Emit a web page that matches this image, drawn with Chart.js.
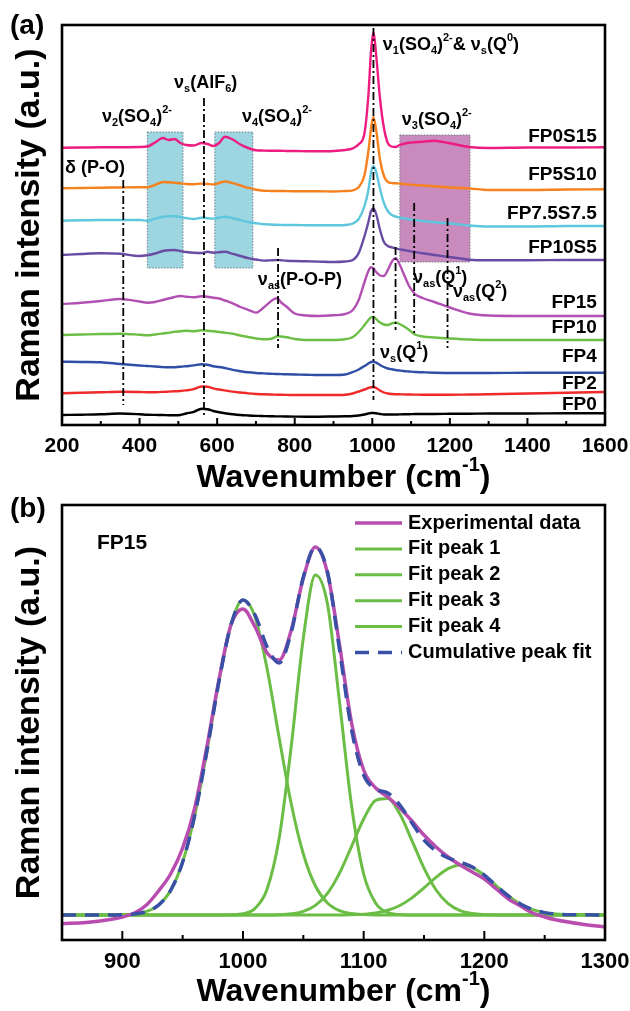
<!DOCTYPE html>
<html>
<head>
<meta charset="utf-8">
<script src="https://cdn.jsdelivr.net/npm/chart.js@4.4.1/dist/chart.umd.min.js"></script>
<style>
body{margin:0;background:#fff;width:630px;height:1011px;position:relative;overflow:hidden}
canvas{position:absolute;left:0}
#ca{top:0}
#cb{top:480px}
</style>
</head>
<body>
<canvas id="ca" width="630" height="500"></canvas>
<canvas id="cb" width="630" height="531"></canvas>
<script>
var FONT = '"Liberation Sans", Arial, sans-serif';
Chart.defaults.font.family = FONT;

// ---- panel (a): stacked Raman spectra ----
var wavenumA = [200,250,300,350,400,420,440,460,475,490,505,520,540,560,575,590,605,620,640,660,680,700,720,735,745,755,765,780,800,830,860,900,930,950,965,980,990,997,1003,1010,1020,1030,1040,1050,1060,1070,1080,1095,1110,1130,1160,1200,1250,1300,1400,1500,1600];
var fp0s15 = [277.3,277.5,277.7,277.8,278,278.5,282.5,287,285,286,282,280,279.5,282,281,279,282,288.3,285.5,280.5,277,274.8,274.4,274.3,274.3,274.2,274.2,274,274,273.8,273.7,274,275,276.7,280.7,292,330,375,393,370,326,297,282,278.5,278,280,281,282.3,282.7,283.3,284.3,281.7,278,277,277.5,277.5,277.7];
var fp5s10 = [236.7,237,237.3,237.5,237.7,237.8,240,243,242.7,242.3,241.7,241,240.8,241.4,241,240.6,242,243.5,241.8,239.5,237.2,235.3,234.3,234.1,234,234,234,233.9,233.8,233.7,233.7,233.5,234,234.7,238,250,274,297,308,295,265,249,243,242,241.7,241.5,241,240.5,240,239.5,238.7,237.5,236.5,235,235,235.5,235.7];
var fp75s75 = [204.3,204.7,205,205,205,204.3,206.3,208.2,208.7,209,208,207,206,207.2,206.8,206.4,207.5,208.2,206.8,205,203,201.8,200.8,200.5,200.3,200.2,200.1,200,200,199.8,199.7,199.7,200,201.5,206,219,235,253,259,253,236,222,214,210,208.5,207.5,206.7,205.7,205,204,202.7,201.5,199.5,198.5,198.5,199,199];
var fp10s5 = [170,171,171.7,171.2,169,169.8,171.5,174,174.8,175,174,173,172.2,172,173.2,172.3,172.8,173.2,171.2,169,166.8,165.5,164.4,164.6,164.8,165,164.7,164.3,164,163.7,163.4,163,163.5,165,172,189,203,214,216.5,211,195,183,179,177.7,176.7,175.7,175,174,173,171.7,170,168,165.3,164.7,164.7,165,165];
var fp15 = [121,122.3,124,126,123.5,122.3,123,125,126.5,128,129,128.3,127.7,128.8,128.3,127.2,126.5,124.5,121.7,118,115.2,112.4,117.5,122.5,125.5,126.7,122.5,118,111.5,109.5,109,109.7,111,115,125,143,154,157.7,156.5,153,149.5,149,155,163,166.7,161,152,139,131,127,123,117.5,111.5,109.5,109,109,109];
var fp10 = [90,90.5,91,91.3,90.3,89.7,90.5,91.5,92.3,93.2,93.7,94.3,93.7,94.7,94.3,93.7,93,92.3,91.2,89.5,88,86.5,85.8,86,87,88.8,88.5,87.7,86,85,85,85,85.7,88,93,100,105,107.7,108,106,102.5,100.5,100,101.5,102.5,101,99,95,90.5,88.5,87.5,86.5,85.5,85,85,85,85];
var fp4 = [63.3,63,62.7,61,59.5,59,58.5,57.9,57.7,57.8,58.2,58.8,59.6,60.8,60.3,58.8,58,57,55.1,53.8,52.7,52,51.6,51.3,51.1,51,50.9,50.7,50.5,50.3,50,50,50.5,53,55.5,59,61.5,63,63.3,62.3,60,58,56.5,55.7,55,54.5,54,53.5,53,52.7,52.3,52,52,52,52.3,52.3,52.3];
var fp2 = [31.7,32.2,32.7,33.2,33,32.7,32.8,33.1,33.4,33.7,34,34.6,35.8,38.5,38.2,36.7,35.5,34.6,33.4,32.5,31.6,31,30.7,30.5,30.4,30.3,30.2,30.1,30,30,30,30,30.3,31.5,33.5,35.5,37,37.8,38,37,34.5,32.5,31.5,31,30.8,30.7,30.6,30.5,30.4,30.3,30.3,30.3,30.5,30.7,31.5,32.3,33];
var fp0 = [10,10.3,10.7,11.5,10.8,10.3,10.1,10,9.8,9.7,10,11.5,13.2,16.3,15.8,14,12.8,11.8,10.8,10,9.5,9.1,8.9,8.8,8.7,8.6,8.6,8.5,8.4,8.3,8.3,8.5,8.7,9,9.5,10.5,11.5,12,12,11.7,11,10.5,10.5,10.5,10.5,10.6,10.7,10.8,11,11,11,11.2,11.3,11.5,11.5,11.7,11.7];
var sampleNames = ['FP0S15','FP5S10','FP7.5S7.5','FP10S5','FP15','FP10','FP4','FP2','FP0'];
var sampleLabelY = [288,250,211,177,122,97,68,41,20];
var ticksA = [200,400,600,800,1000,1200,1400,1600];
var minorA = [300,500,700,900,1100,1300,1500];
// band guide lines: wavenumber, top, bottom
var guideLines = [[358,245,20],[566,327,7],[1003,397,25],[757,177,77],[1060,178,95],[1108,222,92],[1194,207,77]];
// shaded bands: from, to, low, high
var bands = [[420,512,157,293],[594,692,157,293],[1071,1252,163,290]];
var notesA = [
  ['ν_{1}(SO_{4})^{2-}& ν_{s}(Q^{0})', 1027, 380],
  ['ν_{3}(SO_{4})^{2-}', 1076, 305],
  ['ν_{s}(AlF_{6})', 489, 342],
  ['ν_{2}(SO_{4})^{2-}', 303, 308],
  ['ν_{4}(SO_{4})^{2-}', 664, 308],
  ['δ (P-O)', 208, 257],
  ['ν_{as}(P-O-P)', 705, 145],
  ['ν_{as}(Q^{1})', 1105, 147],
  ['ν_{as}(Q^{2})', 1208, 133],
  ['ν_{s}(Q^{1})', 1020, 72]
];

// ---- panel (b): FP15 peak fitting ----
var wavenumB = [850,870,890,900,910,920,930,940,950,960,970,980,990,1000,1010,1020,1030,1040,1050,1060,1070,1080,1090,1100,1110,1120,1130,1140,1150,1160,1170,1180,1190,1200,1210,1220,1230,1240,1250,1260,1280,1300];
var experimental = [-8.5,-7.5,-4.5,-2,2,10,24,41,67,107,168,235,290,306,288,262,255,285,337,368,342,270,192,145,127,118,107,94,80,68,58,50,43,36,26,16,9,2,-2,-5,-9,-12];
var fitPeak1 = [0,0,0,0.3,1.1,3.5,9.9,24.5,53,99.5,163,233,290,315,298,246,177,111,61,29,12,4.3,1.4,0.4,0,0,0,0,0,0,0,0,0,0,0,0,0,0,0,0,0,0];
var fitPeak2 = [0,0,0,0,0,0,0,0,0,0,0,0,0.2,1.2,6.6,26,77,169,277,340,311,213,109,41,11.8,2.5,0.4,0,0,0,0,0,0,0,0,0,0,0,0,0,0,0];
var fitPeak3 = [0,0,0,0,0,0,0,0,0,0,0,0,0,0,0,0,0.3,1.2,3.6,9.6,21.7,41.9,68.7,96,114.7,116.5,100.9,74.4,46.8,25,11.4,4.4,1.5,0.4,0,0,0,0,0,0,0,0];
var fitPeak4 = [0,0,0,0,0,0,0,0,0,0,0,0,0,0,0,0,0,0,0,0,0,0,0.3,0.8,2,4.7,9.5,17.1,27.1,37.7,46.3,50,47.5,39.7,29.2,19,10.8,5.4,2.4,0.9,0.2,0];
var cumulative = [0,0,0,0.3,1.1,3.5,9.9,24.5,53,99.5,163,233,290,315,300,268,252,283,338,368,343,265,185,140,126,122,110,92,75,64,57,53,48,40,29,19,11,5.4,2.4,0.9,0.2,0];
var ticksB = [900,1000,1100,1200,1300];
var minorB = [950,1050,1150,1250];

var sampleColors = ['#ec1c80','#f5821f','#5ec6dd','#6a4ba3','#b24fb2','#6cbe45','#2f4ea6','#ee2a2a','#000000'];
var bandColors = ['#9dd5e1','#9dd5e1','#c98abd'];

function series(xs, ys) {
  return xs.map(function(x, i) { return {x: x, y: ys[i]}; });
}

function parse(s) {
  var out = [], re = /([_^])\{([^}]*)\}|([^_^]+)/g, m;
  while ((m = re.exec(s))) {
    if (m[1]) out.push([m[2], m[1] === '_' ? 'sub' : 'sup']);
    else out.push([m[3], '']);
  }
  return out;
}

function drawRich(ctx, text, x, y, size, align) {
  var parts = parse(text), small = Math.round(size * 0.62), w = 0;
  parts.forEach(function(p) {
    ctx.font = 'bold ' + (p[1] ? small : size) + 'px ' + FONT;
    w += ctx.measureText(p[0]).width;
  });
  var cx = align === 'right' ? x - w : (align === 'center' ? x - w / 2 : x);
  ctx.textAlign = 'left';
  ctx.textBaseline = 'middle';
  ctx.fillStyle = '#000';
  parts.forEach(function(p) {
    ctx.font = 'bold ' + (p[1] ? small : size) + 'px ' + FONT;
    var dy = p[1] === 'sub' ? size * 0.32 : (p[1] === 'sup' ? -size * 0.38 : 0);
    ctx.fillText(p[0], cx, y + dy);
    cx += ctx.measureText(p[0]).width;
  });
}

function frameAndTicks(chart, majors, minors, majLen, minLen) {
  var ctx = chart.ctx, a = chart.chartArea, x = chart.scales.x;
  ctx.save();
  ctx.strokeStyle = '#000';
  ctx.lineWidth = 2;
  majors.concat(minors).forEach(function(v, i) {
    var px = x.getPixelForValue(v), len = i < majors.length ? majLen : minLen;
    ctx.beginPath();
    ctx.moveTo(px, a.bottom);
    ctx.lineTo(px, a.bottom - len);
    ctx.stroke();
  });
  ctx.lineWidth = 2.6;
  ctx.strokeRect(a.left, a.top, a.right - a.left, a.bottom - a.top);
  ctx.restore();
}

var panelA = {
  id: 'panelA',
  beforeDatasetsDraw: function(chart) {
    var ctx = chart.ctx, x = chart.scales.x, y = chart.scales.y;
    ctx.save();
    bands.forEach(function(b, i) {
      var x0 = x.getPixelForValue(b[0]), x1 = x.getPixelForValue(b[1]);
      var y0 = y.getPixelForValue(b[3]), y1 = y.getPixelForValue(b[2]);
      ctx.fillStyle = bandColors[i];
      ctx.fillRect(x0, y0, x1 - x0, y1 - y0);
      ctx.setLineDash([1.5, 1.5]);
      ctx.strokeStyle = '#6f7f86';
      ctx.lineWidth = 1;
      ctx.strokeRect(x0, y0, x1 - x0, y1 - y0);
    });
    ctx.restore();
  },
  afterDatasetsDraw: function(chart) {
    var ctx = chart.ctx, x = chart.scales.x, y = chart.scales.y;
    ctx.save();
    ctx.strokeStyle = '#000';
    ctx.lineWidth = 1.8;
    ctx.setLineDash([8, 3, 2, 3]);
    guideLines.forEach(function(g) {
      var px = x.getPixelForValue(g[0]);
      ctx.beginPath();
      ctx.moveTo(px, y.getPixelForValue(g[1]));
      ctx.lineTo(px, y.getPixelForValue(g[2]));
      ctx.stroke();
    });
    ctx.restore();
    notesA.forEach(function(n) {
      drawRich(ctx, n[0], x.getPixelForValue(n[1]), y.getPixelForValue(n[2]), 18, 'left');
    });
    sampleNames.forEach(function(s, i) {
      drawRich(ctx, s, x.getPixelForValue(1579), y.getPixelForValue(sampleLabelY[i]), 19, 'right');
    });
  },
  afterDraw: function(chart) {
    var ctx = chart.ctx, a = chart.chartArea;
    frameAndTicks(chart, ticksA, minorA, 7, 4);
    drawRich(ctx, 'Wavenumber (cm^{-1})', (a.left + a.right) / 2 + 10, 478, 32, 'center');
    drawRich(ctx, '(a)', 10, 26, 28, 'left');
  }
};

var panelB = {
  id: 'panelB',
  afterDraw: function(chart) {
    var ctx = chart.ctx, a = chart.chartArea, x = chart.scales.x, y = chart.scales.y;
    frameAndTicks(chart, ticksB, minorB, 9, 5);
    drawRich(ctx, 'FP15', x.getPixelForValue(879), y.getPixelForValue(372), 21, 'left');
    // legend
    chart.data.datasets.forEach(function(d, i) {
      var ly = a.top + 18 + i * 25.9;
      ctx.save();
      ctx.strokeStyle = d.borderColor;
      ctx.lineWidth = d.borderWidth;
      ctx.setLineDash(d.borderDash || []);
      ctx.beginPath();
      ctx.moveTo(a.right - 250, ly);
      ctx.lineTo(a.right - 203, ly);
      ctx.stroke();
      ctx.restore();
      drawRich(ctx, d.label, a.right - 197, ly, 20, 'left');
    });
    drawRich(ctx, 'Wavenumber (cm^{-1})', (a.left + a.right) / 2 + 10, 512, 32, 'center');
    drawRich(ctx, '(b)', 10, 29, 28, 'left');
  }
};

function yAxis(min, max) {
  return {
    min: min, max: max,
    grid: {display: false, drawTicks: false},
    border: {display: false},
    ticks: {display: false},
    afterFit: function(s) { s.width = 62; },
    title: {display: true, text: 'Raman intensity (a.u.)', color: '#000',
            font: {family: FONT, size: 34, weight: 'bold'}, padding: {top: 9, bottom: 0}}
  };
}

function xAxis(min, max, ticks, h, fs) {
  return {
    type: 'linear', min: min, max: max,
    grid: {display: false, drawTicks: false},
    border: {display: false},
    afterBuildTicks: function(s) { s.ticks = ticks.map(function(v) { return {value: v}; }); },
    afterFit: function(s) { s.height = h; s.paddingLeft = 0; s.paddingRight = 0; },
    ticks: {color: '#000', padding: 9, maxRotation: 0, autoSkip: false,
            font: {family: FONT, size: fs, weight: 'bold'},
            callback: function(v) { return String(v); }}
  };
}

var dataA = [fp0s15, fp5s10, fp75s75, fp10s5, fp15, fp10, fp4, fp2, fp0];
new Chart(document.getElementById('ca'), {
  type: 'line',
  data: {
    datasets: dataA.map(function(d, i) {
      return {label: sampleNames[i], data: series(wavenumA, d), borderColor: sampleColors[i],
              borderWidth: 2.4, pointRadius: 0, cubicInterpolationMode: 'monotone', fill: false};
    })
  },
  options: {
    responsive: false, animation: false, devicePixelRatio: 1,
    layout: {padding: {top: 25, right: 25, left: 0, bottom: 0}},
    plugins: {legend: {display: false}, tooltip: {enabled: false}},
    scales: {x: xAxis(200, 1600, ticksA, 75, 21), y: yAxis(0, 400)}
  },
  plugins: [panelA]
});

var green = '#6bbd45';
new Chart(document.getElementById('cb'), {
  type: 'line',
  data: {
    datasets: [
      {label: 'Experimental data', data: series(wavenumB, experimental), borderColor: '#b84daf', borderWidth: 3.5, order: 1},
      {label: 'Fit peak 1', data: series(wavenumB, fitPeak1), borderColor: green, borderWidth: 3, order: 2},
      {label: 'Fit peak 2', data: series(wavenumB, fitPeak2), borderColor: green, borderWidth: 3, order: 2},
      {label: 'Fit peak 3', data: series(wavenumB, fitPeak3), borderColor: green, borderWidth: 3, order: 2},
      {label: 'Fit peak 4', data: series(wavenumB, fitPeak4), borderColor: green, borderWidth: 3, order: 2},
      {label: 'Cumulative peak fit', data: series(wavenumB, cumulative), borderColor: '#3a4fa6', borderWidth: 3.5, borderDash: [14, 9], order: 0}
    ]
  },
  options: {
    responsive: false, animation: false, devicePixelRatio: 1,
    elements: {point: {radius: 0}, line: {cubicInterpolationMode: 'monotone', fill: false}},
    layout: {padding: {top: 25, right: 25, left: 0, bottom: 0}},
    plugins: {legend: {display: false}, tooltip: {enabled: false}},
    scales: {x: xAxis(850, 1300, ticksB, 71, 22), y: yAxis(-25, 410)}
  },
  plugins: [panelB]
});
</script>
</body>
</html>
